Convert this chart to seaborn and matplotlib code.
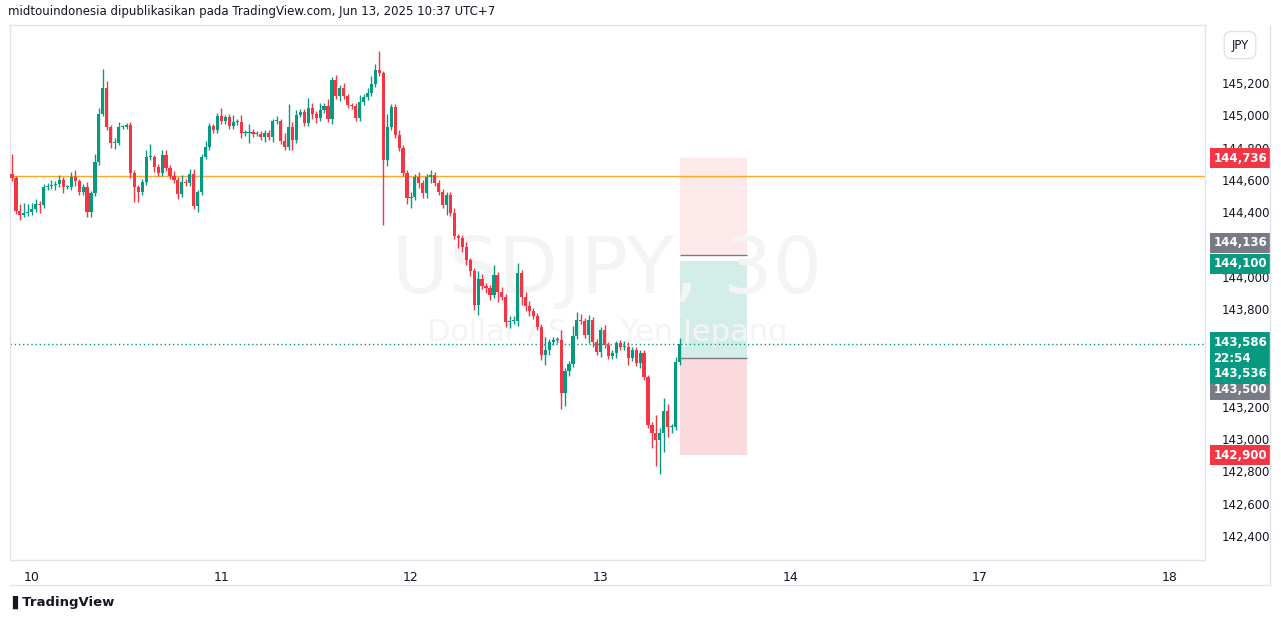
import numpy as np
import pandas as pd
import matplotlib
matplotlib.use("Agg")
import matplotlib.pyplot as plt
import matplotlib.transforms as mtrans
import seaborn as sns

# ---- data (USDJPY 30m closes) ----
closes = [
 144.613,144.409,144.384,144.397,144.403,144.421,144.452,144.446,144.557,144.563,
 144.570,144.576,144.601,144.557,144.557,144.619,144.594,144.526,144.557,144.403,
 144.520,144.712,145.008,145.169,144.928,144.829,144.829,144.928,144.928,144.940,
 144.644,144.557,144.526,144.588,144.743,144.743,144.681,144.644,144.755,144.675,
 144.625,144.601,144.514,144.588,144.582,144.638,144.440,144.526,144.743,144.804,
 144.934,144.910,144.996,144.965,144.990,144.934,144.959,144.959,144.891,
 144.891,144.897,144.885,144.885,144.866,144.891,144.866,144.965,144.965,144.842,
 144.804,144.928,144.848,145.002,145.021,144.953,145.046,145.008,144.984,145.033,
 145.058,144.978,145.219,145.120,145.169,145.120,145.064,145.058,144.984,145.083,
 145.113,145.138,145.194,145.280,145.262,144.724,144.928,145.052,144.879,144.798,
 144.644,144.489,144.495,144.619,144.582,144.520,144.619,144.632,144.582,144.526,
 144.446,144.508,144.397,
 144.254,144.242,144.187,144.106,144.038,143.828,143.989,143.945,143.933,143.890,
 144.014,143.908,143.877,143.723,143.729,143.729,144.026,143.877,143.822,143.791,
 143.760,143.692,143.518,143.549,143.599,143.612,143.612,143.284,143.420,143.463,
 143.636,143.735,143.729,143.643,143.735,143.599,143.537,143.674,143.580,143.512,
 143.531,143.593,143.568,143.568,143.500,143.549,143.469,143.531,143.383,143.086,
 143.037,142.994,143.037,143.173,143.074,143.074,143.476,143.586,
]
first_open = 144.640
upper_wick = [
 0.12,0.01,0.04,0.06,0.05,0.04,0.03,0.02,0.02,0.02, 0.03,0.02,0.03,0.02,0.01,0.03,0.04,0.01,0.02,0.03,
 0.01,0.05,0.04,0.12,0.04,0.01,0.03,0.03,0.01,0.01, 0.02,0.02,0.01,0.02,0.04,0.08,0.01,0.02,0.03,0.03,
 0.02,0.03,0.02,0.04,0.02,0.03,0.03,0.01,0.02,0.04, 0.02,0.01,0.02,0.05,0.01,0.02,0.04,0.02,0.04,
 0.02,0.05,0.02,0.02,0.02,0.02,0.02,0.01,0.03,0.01, 0.05,0.14,0.03,0.03,0.02,0.02,0.06,0.03,0.02,0.04,
 0.02,0.04,0.02,0.03,0.02,0.03,0.01,0.01,0.02,0.04, 0.02,0.03,0.05,0.04,0.12,0.01,0.08,0.02,0.02,0.03,
 0.02,0.02,0.03,0.02,0.03,0.02,0.02,0.03,0.02,0.02, 0.02,0.02,0.02,
 0.03,0.01,0.02,0.03,0.01,0.02,0.05,0.03,0.02,0.02, 0.06,0.02,0.03,0.02,0.03,0.03,0.06,0.02,0.03,0.03,
 0.02,0.02,0.02,0.08,0.02,0.02,0.02,0.06,0.02,0.02, 0.06,0.05,0.04,0.02,0.03,0.02,0.02,0.02,0.03,0.02,
 0.02,0.01,0.02,0.04,0.03,0.02,0.02,0.02,0.02,0.01, 0.02,0.11,0.03,0.08,0.04,0.02,0.03,0.04,
]
lower_wick = [
 0.02,0.02,0.03,0.01,0.02,0.02,0.02,0.05,0.02,0.02, 0.02,0.03,0.02,0.04,0.01,0.02,0.03,0.02,0.02,0.03,
 0.03,0.02,0.02,0.01,0.02,0.03,0.04,0.01,0.01,0.01, 0.03,0.09,0.06,0.02,0.02,0.02,0.03,0.02,0.02,0.02,
 0.02,0.02,0.03,0.02,0.02,0.02,0.02,0.04,0.02,0.01, 0.02,0.02,0.02,0.02,0.02,0.02,0.02,0.02,0.03,
 0.02,0.06,0.02,0.01,0.02,0.03,0.02,0.03,0.02,0.02, 0.02,0.02,0.06,0.02,0.01,0.02,0.02,0.03,0.03,0.02,
 0.02,0.02,0.03,0.02,0.03,0.02,0.02,0.02,0.02,0.02, 0.02,0.02,0.02,0.02,0.02,0.40,0.04,0.02,0.02,0.02,
 0.02,0.04,0.06,0.02,0.03,0.03,0.03,0.04,0.02,0.02, 0.02,0.06,0.02,
 0.02,0.06,0.03,0.03,0.03,0.03,0.06,0.02,0.03,0.03, 0.02,0.06,0.02,0.03,0.04,0.02,0.03,0.05,0.03,0.03,
 0.02,0.02,0.03,0.06,0.03,0.02,0.02,0.10,0.08,0.03, 0.02,0.02,0.02,0.02,0.05,0.03,0.02,0.03,0.02,0.02,
 0.02,0.03,0.02,0.02,0.04,0.02,0.02,0.03,0.02,0.02, 0.09,0.16,0.21,0.12,0.06,0.04,0.02,0.02,
]
day_labels = ["10", "11", "12", "13", "14", "17", "18"]
day_ticks = [5, 53, 101, 149, 197, 245, 293]
price_ticks = [142.4, 142.6, 142.8, 143.0, 143.2, 143.8, 144.0, 144.4, 144.6, 144.8, 145.0, 145.2]
hline_price = 144.625
last_price = 143.586
stop_top, entry_top_grey, entry_top, entry_bot, entry_bot_grey, target_bot = 144.736, 144.136, 144.100, 143.536, 143.500, 142.900
box_start, box_end = 169, 186

n = len(closes)
opens = [first_open] + closes[:-1]
highs = [max(o, c) + w for o, c, w in zip(opens, closes, upper_wick[:n])]
lows = [min(o, c) - w for o, c, w in zip(opens, closes, lower_wick[:n])]
df = pd.DataFrame({"i": np.arange(n), "open": opens, "close": closes, "high": highs, "low": lows})
GREEN, RED, GREY = "#089981", "#f23645", "#787b86"
df["color"] = np.where(df["close"] >= df["open"], GREEN, RED)

sns.set_theme(style="white")
fig = plt.figure(figsize=(12.81, 6.2), dpi=100)
ax = fig.add_axes([10/1281, 60/620, 1195/1281, 535/620])

# position box
ax.fill_between([box_start, box_end], entry_top_grey, stop_top, color="#fde9ea", lw=0, zorder=0)
ax.fill_between([box_start, box_end], entry_bot_grey, entry_top, color="#d3eee8", lw=0, zorder=0)
ax.fill_between([box_start, box_end], target_bot, entry_bot_grey, color="#fbdadd", lw=0, zorder=0)
ax.hlines([entry_top_grey, entry_bot_grey], box_start, box_end, color=GREY, lw=1, zorder=1)

# watermark
ax.text(0.5, 0.54, "USDJPY, 30", transform=ax.transAxes, ha="center", va="center",
        fontsize=56, color="#f4f4f5", zorder=0)
ax.text(0.5, 0.425, "Dollar AS vs Yen Jepang", transform=ax.transAxes, ha="center", va="center",
        fontsize=22, color="#f4f4f5", zorder=0)

ax.axhline(hline_price, color="#ffa726", lw=1, zorder=2)
ax.axhline(last_price, color=GREEN, lw=1, ls=(0, (1, 2)), zorder=2)

ax.vlines(df["i"], df["low"], df["high"], colors=df["color"], lw=1, zorder=3)
body_h = (df["close"] - df["open"]).abs().clip(lower=0.004)
ax.bar(df["i"], body_h, bottom=df[["open", "close"]].min(axis=1), width=0.8,
       color=df["color"], lw=0, zorder=4)

ax.set_xlim(-0.5, 302)
ax.set_ylim(142.252, 145.558)
ax.set_xticks(day_ticks)
ax.set_xticklabels(day_labels, fontsize=9, color="#131722")
ax.set_yticks(price_ticks)
ax.set_yticklabels([f"{p:,.3f}".replace(".", ",") for p in price_ticks], fontsize=8.5, color="#131722")
ax.yaxis.tick_right()
ax.tick_params(axis="both", length=0, pad=8)
ax.tick_params(axis="y", pad=12)
for s in ax.spines.values():
    s.set_color("#e0e3eb"); s.set_linewidth(1)

tr = mtrans.blended_transform_factory(ax.transAxes, ax.transData)
# (price, text, colour, vertical offset in points to avoid overlap)
labels = [(stop_top, "144,736", RED, 0), (entry_top_grey, "144,136", GREY, 9),
          (entry_top, "144,100", GREEN, -2), (entry_bot_grey, "143,500", GREY, -23),
          (target_bot, "142,900", RED, 0)]
for y, t, c, off in labels:
    ax.annotate(t, xy=(1.0, y), xycoords=tr, xytext=(6, off), textcoords="offset points",
                ha="left", va="center", fontsize=8.5, color="white", fontweight="bold",
                bbox=dict(boxstyle="square,pad=0.3", fc=c, ec="none"), zorder=10, annotation_clip=False)
ax.annotate("143,586\n22:54\n143,536", xy=(1.0, last_price), xycoords=tr, xytext=(6, -10),
            textcoords="offset points", ha="left", va="center", fontsize=8.5, color="white",
            fontweight="bold", linespacing=1.25,
            bbox=dict(boxstyle="square,pad=0.3", fc=GREEN, ec="none"), zorder=11, annotation_clip=False)

fig.text(1240/1281, 1 - 45/620, "JPY", ha="center", va="center", fontsize=8.5, color="#131722",
         bbox=dict(boxstyle="round,pad=0.6", fc="white", ec="#e0e3eb"))
fig.text(8/1281, 1 - 12/620, "midtouindonesia dipublikasikan pada TradingView.com, Jun 13, 2025 10:37 UTC+7",
         ha="left", va="center", fontsize=8.5, color="#131722")
fig.text(12/1281, 1 - 602/620, "\u258cTradingView", ha="left", va="center", fontsize=9.5,
         color="#131722", fontweight="bold")
fig.add_artist(plt.Line2D([10/1281, 1270/1281], [1 - 585/620] * 2, color="#e0e3eb", lw=1))
fig.add_artist(plt.Line2D([1270/1281] * 2, [1 - 585/620, 1 - 25/620], color="#e0e3eb", lw=1))

fig.savefig("out.png", dpi=100, facecolor="white")
